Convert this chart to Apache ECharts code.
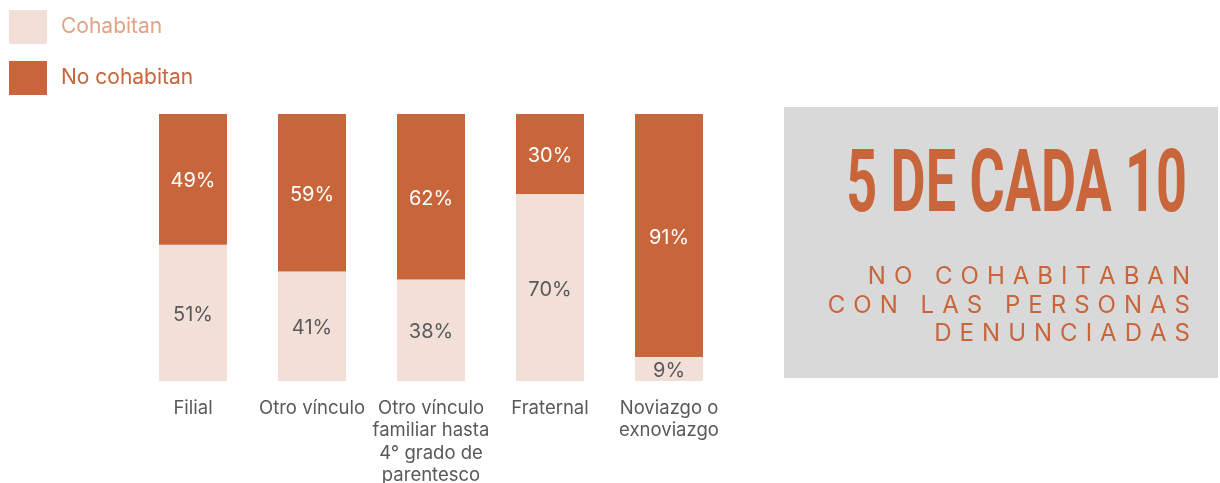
<!DOCTYPE html>
<html>
<head>
<meta charset="utf-8">
<script src="https://cdn.jsdelivr.net/npm/echarts@6/dist/echarts.min.js"></script>
<style>
    html, body { margin: 0; padding: 0; background: #fff; }
    #chart { width: 1220px; height: 483px; }
</style>
</head>
<body>
<div id="chart"></div>
<script>
// datos
var categorias = ['Filial', 'Otro vínculo', 'Otro vínculo\nfamiliar hasta\n4° grado de\nparentesco', 'Fraternal', 'Noviazgo o\nexnoviazgo'];
var cohabitan = [51, 41, 38, 70, 9];
var noCohabitan = [49, 59, 62, 30, 91];
var titulo = '5 DE CADA 10';
var subtitulo = ['NO COHABITABAN', 'CON LAS PERSONAS', 'DENUNCIADAS'];

var oscuro = '#C8653B';
var claro = '#F2E0D8';

// espaciado entre letras
function espaciar(txt){
    return txt.split('').join('\u2004');
}

var myChart = echarts.init(document.getElementById('chart'));

var graficos = [
    {
        type: 'rect',
        shape: { x: 784, y: 107, width: 434, height: 271 },
        style: { fill: '#D9D9D9' },
        z: -1
    },
    {
        type: 'text',
        x: 1187,
        y: 189,
        scaleX: 0.62,
        style: {
            text: titulo,
            fill: oscuro,
            font: 'bold 87px Roboto',
            align: 'right',
            verticalAlign: 'middle'
        }
    }
];
for (var i = 0; i < subtitulo.length; i++) {
    graficos.push({
        type: 'text',
        x: 1190,
        y: 277 + i * 28.3,
        style: {
            text: espaciar(subtitulo[i]),
            fill: oscuro,
            font: '24px Inter',
            align: 'right',
            verticalAlign: 'middle'
        }
    });
}

var option = {
    animation: false,
    textStyle: { fontFamily: 'Inter' },
    legend: {
        orient: 'vertical',
        left: 4,
        top: 5,
        itemWidth: 38,
        itemHeight: 34,
        itemGap: 17,
        icon: 'rect',
        textStyle: { fontSize: 21, padding: [0, 0, 0, 9] },
        data: [
            { name: 'Cohabitan', textStyle: { color: '#E2A286' } },
            { name: 'No cohabitan', textStyle: { color: oscuro } }
        ]
    },
    grid: { left: 133.5, right: 491.5, top: 114, bottom: 102, outerBoundsMode: 'none' },
    xAxis: {
        type: 'category',
        data: categorias,
        axisLine: { show: false },
        axisTick: { show: false },
        axisLabel: {
            color: '#595959',
            fontSize: 18.5,
            lineHeight: 22.5,
            margin: 16,
            interval: 0
        }
    },
    yAxis: {
        type: 'value',
        min: 0,
        max: 100,
        show: false
    },
    series: [
        {
            name: 'Cohabitan',
            type: 'bar',
            stack: 'total',
            barWidth: 68,
            color: claro,
            label: {
                show: true,
                position: 'inside',
                offset: [0, 2],
                formatter: '{c}%',
                color: '#595959',
                fontSize: 20
            },
            data: cohabitan
        },
        {
            name: 'No cohabitan',
            type: 'bar',
            stack: 'total',
            barWidth: 68,
            color: oscuro,
            label: {
                show: true,
                position: 'inside',
                offset: [0, 2],
                formatter: '{c}%',
                color: '#ffffff',
                fontSize: 20
            },
            data: noCohabitan
        }
    ],
    graphic: graficos
};
myChart.setOption(option);
</script>
</body>
</html>
